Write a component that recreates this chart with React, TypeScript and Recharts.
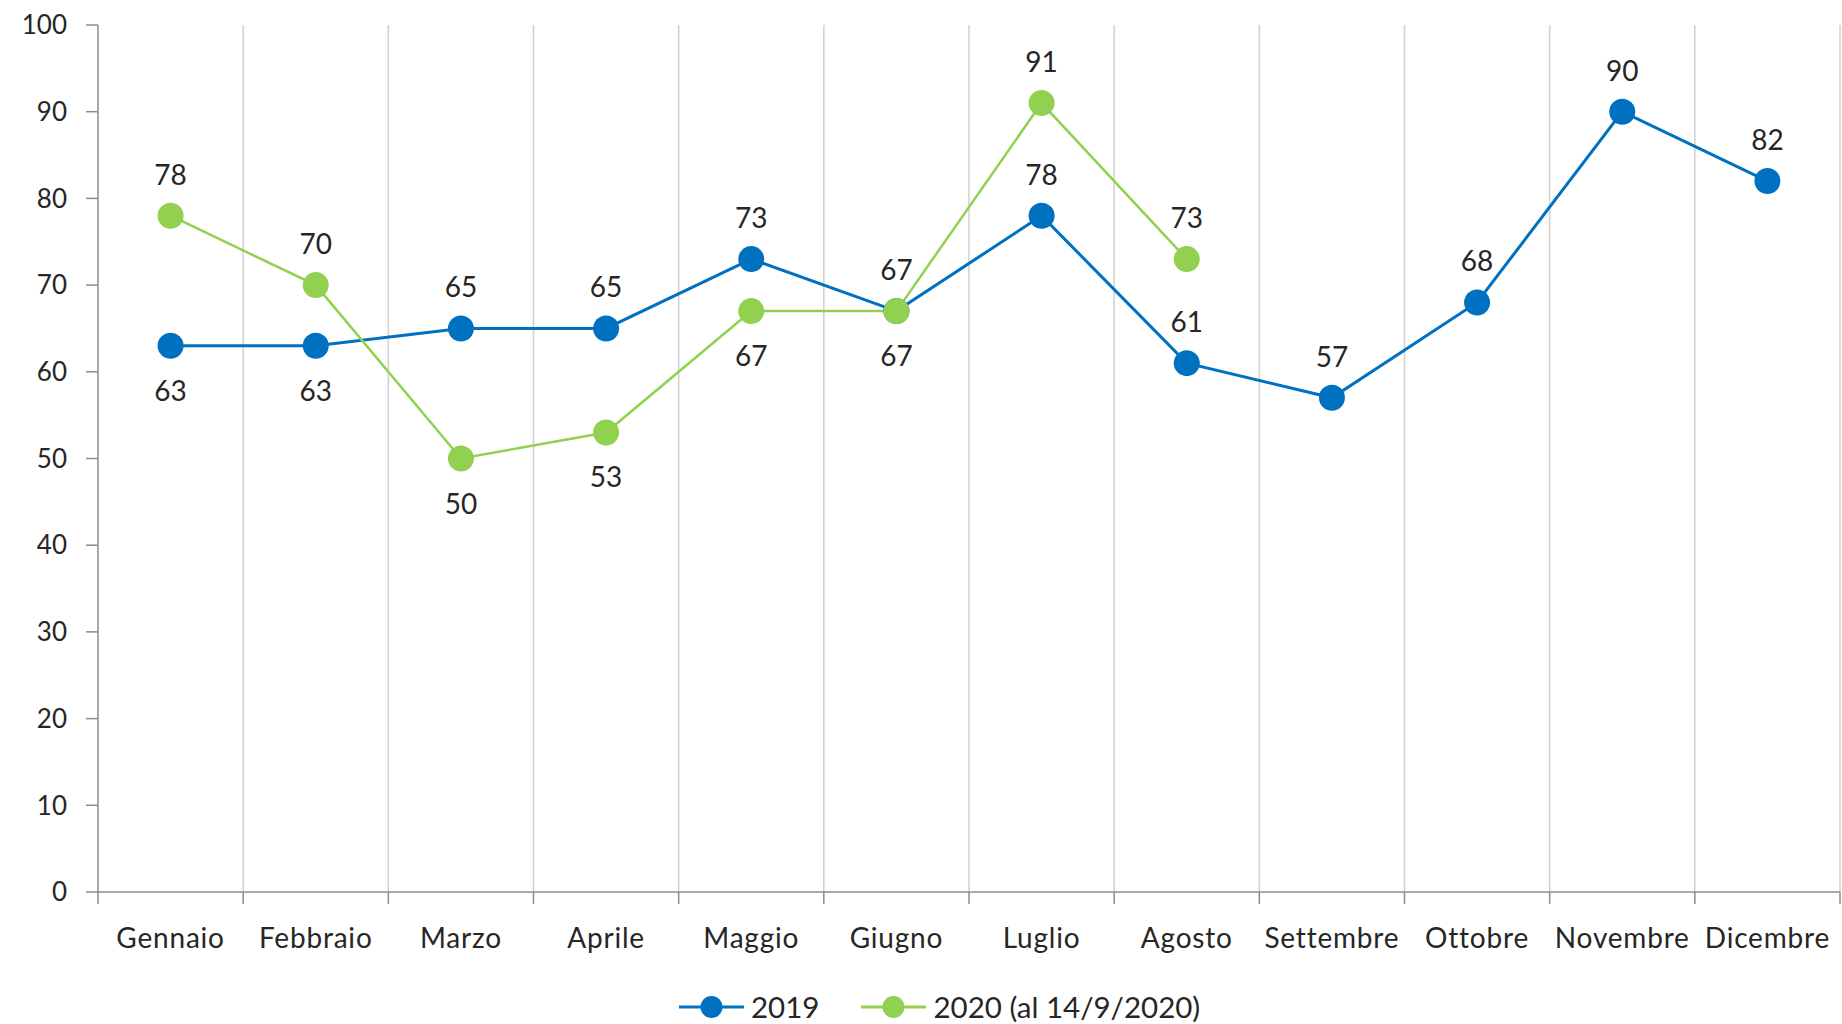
import { CartesianGrid, LabelList, Legend, Line, LineChart, XAxis, YAxis } from "recharts";

const MONTHS = [
  "Gennaio",
  "Febbraio",
  "Marzo",
  "Aprile",
  "Maggio",
  "Giugno",
  "Luglio",
  "Agosto",
  "Settembre",
  "Ottobre",
  "Novembre",
  "Dicembre",
];
const Y2019 = [63, 63, 65, 65, 73, 67, 78, 61, 57, 68, 90, 82];
const Y2020 = [78, 70, 50, 53, 67, 67, 91, 73];
const Y_TICKS = [0, 10, 20, 30, 40, 50, 60, 70, 80, 90, 100];

// months whose value label sits under the dot
const BELOW_2019 = ["Gennaio", "Febbraio", "Giugno"];
const BELOW_2020 = ["Marzo", "Aprile", "Maggio"];

const NAME_2019 = "2019";
const NAME_2020 = "2020 (al 14/9/2020)";

const BLUE = "#0070c0";
const GREEN = "#92d050";
const AXIS = "#8c8c8c";
const GRID = "#d0d0d0";
const TEXT = "#262626";
const FONT = "Lato, 'Open Sans', sans-serif";

const W = 1842;
const H = 1024;
const Y_AXIS_W = 98;
const RIGHT = 2;
const BAND = (W - Y_AXIS_W - RIGHT) / MONTHS.length;
const TICK_SIZE = 12;
const TICK_MARGIN = 24;

const data = MONTHS.map((m, i) => ({
  month: m,
  y2019: Y2019[i] ?? null,
  y2020: Y2020[i] ?? null,
}));

function MonthTick(props: any) {
  const { x, y, payload, index } = props;
  const base = y - TICK_SIZE - TICK_MARGIN;
  return (
    <g>
      <line x1={x - BAND / 2} x2={x - BAND / 2} y1={base} y2={base + TICK_SIZE} stroke={AXIS} strokeWidth={1.5} />
      {index === MONTHS.length - 1 && (
        <line x1={x + BAND / 2} x2={x + BAND / 2} y1={base} y2={base + TICK_SIZE} stroke={AXIS} strokeWidth={1.5} />
      )}
      <text
        x={x}
        y={y}
        dy="0.71em"
        textAnchor="middle"
        fill={TEXT}
        fontSize={28}
        letterSpacing={0.8}
        fontFamily={FONT}
      >
        {payload.value}
      </text>
    </g>
  );
}

function makeLabel(below: string[]) {
  return (props: any) => {
    const { x, y, value, index } = props;
    if (value == null) return null;
    const down = below.includes(MONTHS[index]);
    return (
      <text
        x={x}
        y={down ? y + 44 : y - 42}
        textAnchor="middle"
        dominantBaseline="central"
        fill={TEXT}
        fontSize={28}
        fontFamily={FONT}
      >
        {value}
      </text>
    );
  };
}

function LegendIcon({ color }: { color: string }) {
  return (
    <svg width={65} height={26} style={{ display: "block" }}>
      <line x1={0} x2={65} y1={13} y2={13} stroke={color} strokeWidth={3} />
      <circle cx={32.5} cy={13} r={11} fill={color} />
    </svg>
  );
}

function renderLegend() {
  const items = [
    { name: NAME_2019, color: BLUE },
    { name: NAME_2020, color: GREEN },
  ];
  return (
    <div
      style={{
        height: 52,
        paddingTop: 18,
        boxSizing: "border-box",
        display: "flex",
        alignItems: "center",
        paddingLeft: 679,
        fontFamily: FONT,
        fontSize: 29.5,
        lineHeight: 1,
        color: TEXT,
      }}
    >
      {items.map((it) => (
        <div key={it.name} style={{ display: "flex", alignItems: "center", marginRight: 42 }}>
          <LegendIcon color={it.color} />
          <span style={{ marginLeft: 7 }}>{it.name}</span>
        </div>
      ))}
    </div>
  );
}

export default function App() {
  return (
    <div
      style={{
        position: "fixed",
        top: 0,
        left: 0,
        width: W,
        height: H,
        overflow: "hidden",
        background: "#fff",
        fontFamily: FONT,
      }}
    >
      <LineChart width={W} height={H} data={data} margin={{ top: 25, right: RIGHT, left: 0, bottom: 0 }}>
        <CartesianGrid
          horizontal={false}
          stroke={GRID}
          strokeWidth={1.5}
          verticalCoordinatesGenerator={({ offset }: any) =>
            MONTHS.map((_, i) => offset.left + ((i + 1) * offset.width) / MONTHS.length)
          }
        />
        <XAxis
          dataKey="month"
          scale="band"
          height={80}
          tickLine={false}
          tickSize={TICK_SIZE}
          tickMargin={TICK_MARGIN}
          axisLine={{ stroke: AXIS, strokeWidth: 1.5 }}
          tick={<MonthTick />}
          interval={0}
        />
        <YAxis
          width={Y_AXIS_W}
          domain={[0, 100]}
          ticks={Y_TICKS}
          tickSize={12}
          tickMargin={19}
          axisLine={{ stroke: AXIS, strokeWidth: 1.5 }}
          tickLine={{ stroke: AXIS, strokeWidth: 1.5 }}
          tick={{ fill: TEXT, fontSize: 26, fontFamily: FONT }}
        />
        <Legend verticalAlign="bottom" content={renderLegend} />
        <Line
          type="linear"
          dataKey="y2019"
          name={NAME_2019}
          stroke={BLUE}
          strokeWidth={3}
          dot={{ r: 13, fill: BLUE, stroke: BLUE, strokeWidth: 0 }}
          activeDot={false}
          isAnimationActive={false}
        >
          <LabelList dataKey="y2019" content={makeLabel(BELOW_2019)} />
        </Line>
        <Line
          type="linear"
          dataKey="y2020"
          name={NAME_2020}
          stroke={GREEN}
          strokeWidth={2.5}
          dot={{ r: 13, fill: GREEN, stroke: GREEN, strokeWidth: 0 }}
          activeDot={false}
          isAnimationActive={false}
        >
          <LabelList dataKey="y2020" content={makeLabel(BELOW_2020)} />
        </Line>
      </LineChart>
    </div>
  );
}
